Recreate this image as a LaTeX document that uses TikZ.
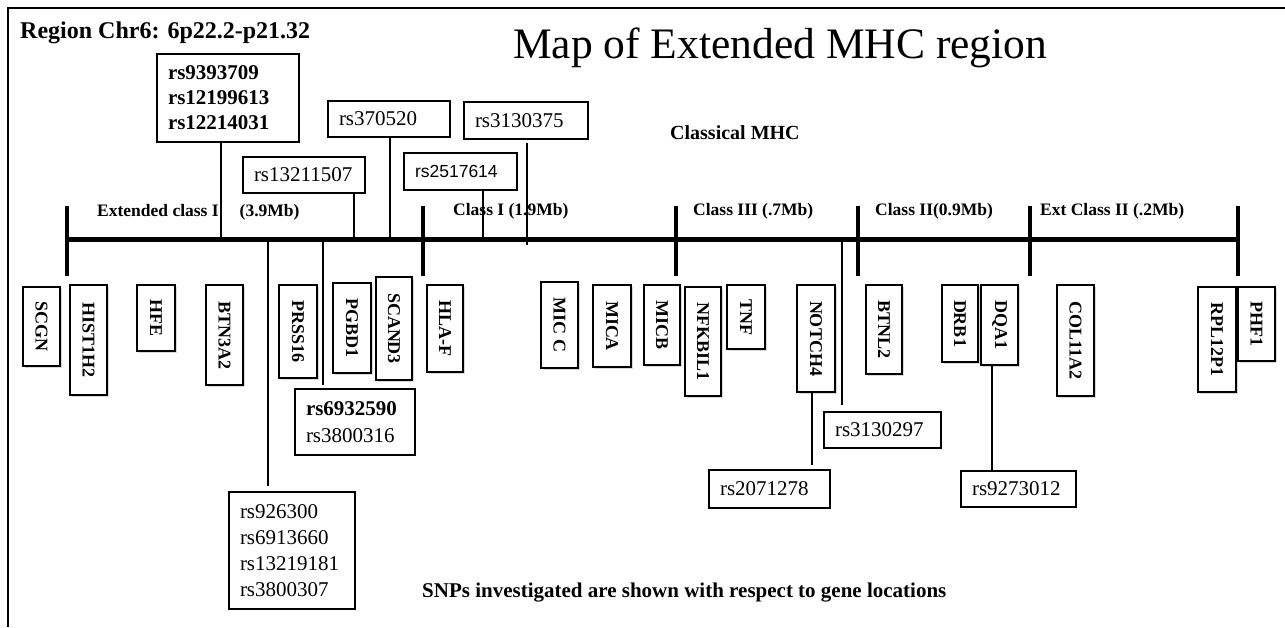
\documentclass[tikz,border=0pt]{standalone}
\usepackage{fontspec}
\setmainfont{Liberation Serif}
\newfontfamily\arialfont{Liberation Sans}
\usetikzlibrary{shadows}
\begin{document}
\begin{tikzpicture}[x=1pt,y=-1pt,
  snpbox/.style={draw, line width=1.3pt, inner xsep=11pt, inner ysep=0pt, align=left, font=\fontsize{21}{25}\selectfont},
  genebox/.style={draw, line width=1.3pt, inner sep=0pt, fill=white, font=\bfseries\fontsize{18}{18}\selectfont,
    drop shadow={shadow xshift=1.5pt, shadow yshift=-1.5pt, opacity=0.3, fill=gray}},
  conn/.style={line width=1.3pt},
  axisline/.style={line width=5pt},
  tickline/.style={line width=4.5pt},
  classlbl/.style={anchor=west, inner sep=0pt, font=\bfseries\fontsize{17.5}{18}\selectfont}]
\useasboundingbox (0,0) rectangle (1285,627);
% frame
\draw[line width=2pt] (7.5,627) -- (7.5,7.5) -- (1285,7.5);

% titles
\node[anchor=base west, inner sep=0pt, font=\bfseries\fontsize{24}{24}\selectfont] (region) at (20,38) {Region Chr6: 6p22.2-p21.32};
\node[anchor=base west, inner sep=0pt, font=\fontsize{43.5}{44}\selectfont] (title) at (513,58) {Map of Extended MHC region};
\node[anchor=west, inner sep=0pt, font=\bfseries\fontsize{20}{20}\selectfont] (classical) at (670,133) {Classical MHC};
\node[anchor=base west, inner sep=0pt, font=\bfseries\fontsize{21}{21}\selectfont] (note) at (422,597) {SNPs investigated are shown with respect to gene locations};

% axis
\coordinate (t0) at (67,239);
\coordinate (t1) at (423,239);
\coordinate (t2) at (676,239);
\coordinate (t3) at (858,239);
\coordinate (t4) at (1030,239);
\coordinate (t5) at (1238,239);
\draw[axisline] (t0) -- (t5);
\foreach \t in {t0,t1,t2,t3,t4,t5}
  \draw[tickline] ([yshift=33pt]\t) -- ([yshift=-37pt]\t);

% class labels
\node[classlbl] (lext) at (97,212) {Extended class I\hspace{21pt}(3.9Mb)};
\node[classlbl] (lc1) at (453,211) {Class I (1.9Mb)};
\node[classlbl] (lc3) at (693,211) {Class III (.7Mb)};
\node[classlbl] (lc2) at (875,211) {Class II(0.9Mb)};
\node[classlbl] (lec2) at (1040,211) {Ext Class II (.2Mb)};

% SNP boxes above
\node[snpbox, font=\bfseries\fontsize{21}{25}\selectfont, text width=120pt, minimum height=88pt] (s1) at (228,98) {rs9393709\\rs12199613\\rs12214031};
\node[snpbox, text width=100pt, minimum height=36pt] (s2) at (304,175) {rs13211507};
\node[snpbox, text width=100pt, minimum height=36pt] (s3) at (389,119) {rs370520};
\node[snpbox, font=\arialfont\fontsize{17.5}{20}\selectfont, text width=91pt, minimum height=37pt] (s4) at (460.5,171.5) {rs2517614};
\node[snpbox, text width=102pt, minimum height=37pt] (s5) at (526,120.5) {rs3130375};

% SNP boxes below
\node[snpbox, font=\fontsize{21}{26}\selectfont, text width=104pt, minimum height=117pt] (s6) at (292,550.5) {rs926300\\rs6913660\\rs13219181\\rs3800307};
\node[snpbox, font=\fontsize{21}{27}\selectfont, text width=98pt, minimum height=66pt] (s7) at (355,422) {\textbf{rs6932590}\\rs3800316};
\node[snpbox, text width=95pt, minimum height=36pt] (s8) at (882.5,430) {rs3130297};
\node[snpbox, text width=99pt, minimum height=38pt] (s9) at (769.5,489) {rs2071278};
\node[snpbox, text width=93pt, minimum height=36pt] (s10) at (1018.5,489) {rs9273012};

% gene boxes
\node[genebox, minimum width=37pt, minimum height=79pt] (gSCGN) at (41.5,326.5) {\rotatebox{-90}{SCGN}};
\node[genebox, minimum width=37pt, minimum height=110pt] (gHIST) at (88.5,340) {\rotatebox{-90}{HIST1H2}};
\node[genebox, minimum width=38pt, minimum height=66pt] (gHFE) at (156,318) {\rotatebox{-90}{HFE}};
\node[genebox, minimum width=37pt, minimum height=100pt] (gBTN) at (224.5,335) {\rotatebox{-90}{BTN3A2}};
\node[genebox, minimum width=38pt, minimum height=93pt] (gPRSS) at (298,331.5) {\rotatebox{-90}{PRSS16}};
\node[genebox, minimum width=38pt, minimum height=90pt] (gPGBD) at (352,328) {\rotatebox{-90}{PGBD1}};
\node[genebox, minimum width=36pt, minimum height=103pt] (gSCAND) at (394,328.5) {\rotatebox{-90}{SCAND3}};
\node[genebox, minimum width=36pt, minimum height=87pt] (gHLAF) at (445,328.5) {\rotatebox{-90}{HLA-F}};
\node[genebox, minimum width=37pt, minimum height=86pt] (gMICC) at (559.5,325) {\rotatebox{-90}{MIC C}};
\node[genebox, minimum width=38pt, minimum height=82pt] (gMICA) at (612,326) {\rotatebox{-90}{MICA}};
\node[genebox, minimum width=36pt, minimum height=80pt] (gMICB) at (662,325) {\rotatebox{-90}{MICB}};
\node[genebox, minimum width=36pt, minimum height=109pt] (gNFK) at (703,341.5) {\rotatebox{-90}{NFKBIL1}};
\node[genebox, minimum width=38pt, minimum height=64pt] (gTNF) at (746,317) {\rotatebox{-90}{TNF}};
\node[genebox, minimum width=38pt, minimum height=107pt] (gNOTCH) at (816,338.5) {\rotatebox{-90}{NOTCH4}};
\node[genebox, minimum width=36pt, minimum height=89pt] (gBTNL) at (884,329.5) {\rotatebox{-90}{BTNL2}};
\node[genebox, minimum width=36pt, minimum height=77pt] (gDRB) at (960,323.5) {\rotatebox{-90}{DRB1}};
\node[genebox, minimum width=37pt, minimum height=80pt] (gDQA) at (999.5,325) {\rotatebox{-90}{DQA1}};
\node[genebox, minimum width=37pt, minimum height=111pt] (gCOL) at (1075.5,340.5) {\rotatebox{-90}{COL11A2}};
\node[genebox, minimum width=38pt, minimum height=105pt] (gRPL) at (1217,339.5) {\rotatebox{-90}{RPL12P1}};
\node[genebox, minimum width=37pt, minimum height=74pt] (gPHF) at (1256.5,324) {\rotatebox{-90}{PHF1}};

% connector anchor points on the axis
\coordinate (p1) at (221,239);
\coordinate (p2) at (354,239);
\coordinate (p3) at (390,239);
\coordinate (p4) at (483,239);
\coordinate (p5) at (527,239);
\coordinate (p6) at (268,239);
\coordinate (p7) at (323,239);
\coordinate (p8) at (842,239);
\coordinate (p9) at (812,239);
\coordinate (p10) at (992,239);

% connectors
\draw[conn] (s1.south -| p1) -- (p1);
\draw[conn] (s2.south -| p2) -- (p2);
\draw[conn] (s3.south -| p3) -- (p3);
\draw[conn] (s4.south -| p4) -- (p4);
\draw[conn] ([yshift=-3pt]s5.south -| p5) -- ([yshift=-6pt]p5);
\draw[conn, shorten >=5pt] (p6) -- (s6.north -| p6);
\draw[conn, shorten >=3pt] (p7) -- (s7.north -| p7);
\draw[conn, shorten >=6pt] (p8) -- (s8.north -| p8);
\draw[conn, shorten >=4pt] (gNOTCH.south -| p9) -- (s9.north -| p9);
\draw[conn] (gDQA.south -| p10) -- (s10.north -| p10);
\end{tikzpicture}
\end{document}
